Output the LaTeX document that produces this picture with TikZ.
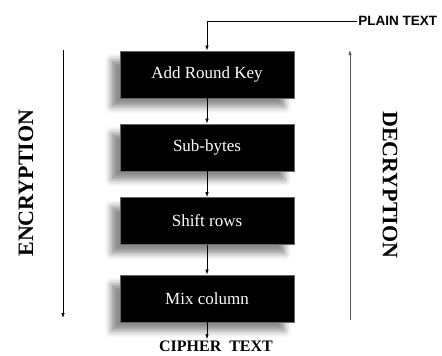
\documentclass[tikz,border=0pt]{standalone}
\usepackage{fontspec}
\setmainfont{Liberation Serif}
\newfontfamily\plainsans{Liberation Sans}
\usepackage{tikz}
\usetikzlibrary{positioning,arrows.meta,shadows.blur}

\begin{document}
\begin{tikzpicture}[x=1pt,y=-1pt,line width=0.7pt,
    stepbox/.style={draw=black!60,fill=black,text=white,minimum width=174pt,minimum height=47pt,
        font=\fontsize{17}{19}\selectfont,
        blur shadow={shadow xshift=-9pt,shadow yshift=-9pt,shadow blur radius=6pt,shadow opacity=45}},
    flow/.style={-{Latex[length=5pt,width=3.5pt]}},
    sidelabel/.style={font=\fontsize{22}{24}\selectfont\bfseries}]
\useasboundingbox (0,0) rectangle (442,356);
% the four steps
\node[stepbox] (ark) at (207,74.5) {Add Round Key};
\node[stepbox] (sub) at (207,147.5) {Sub-bytes};
\node[stepbox] (shr) at (207,221) {Shift rows};
\node[stepbox] (mxc) at (207,298.5) {Mix column};
% input and output
\node[anchor=west,inner sep=1pt,font=\plainsans\fontsize{13.5}{16}\selectfont\bfseries] (plain) at (357,21) {PLAIN TEXT};
\node[inner sep=1pt,font=\fontsize{16}{18}\selectfont\bfseries] (cipher) at (216,346) {CIPHER\ \ TEXT};
\draw[flow] (plain.west) -| (ark.north);
\draw[flow] (ark) -- (sub);
\draw[flow] (sub) -- (shr);
\draw[flow] (shr) -- (mxc);
\draw[flow] (mxc.south) -- (mxc.south |- cipher.north);
% direction arrows
\coordinate (enctop) at (63,50);
\coordinate (encbot) at (63,318);
\coordinate (decbot) at (350,320);
\coordinate (dectop) at (350,50);
\draw[flow] (enctop) -- (encbot);
\draw[flow,draw=black!65] (decbot) -- (dectop);
\node[sidelabel,rotate=90] (enc) at (26,183) {ENCRYPTION};
\node[sidelabel,rotate=-90] (dec) at (390,185) {DECRYPTION};
\end{tikzpicture}
\end{document}
